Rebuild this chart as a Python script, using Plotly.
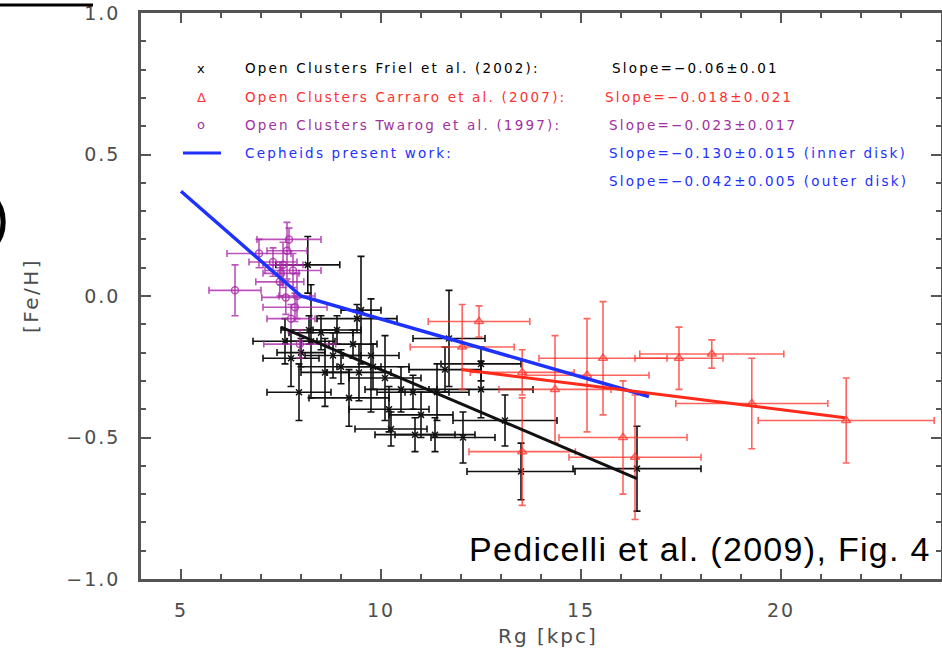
import plotly.graph_objects as go

# ---------------- data ----------------
# Friel et al. (2002) open clusters: Rg, [Fe/H], errors
friel_x    = [7.6, 7.75, 7.95, 8.0, 8.17, 8.2, 8.25, 8.5, 8.8, 8.9, 9.0, 9.2, 9.4, 9.45, 9.5, 9.75,
              9.8, 10.1, 10.25, 10.5, 10.8, 10.85, 11.0, 11.35, 11.4, 11.6, 11.7, 12.05, 12.5, 12.5,
              13.1, 13.5, 16.4, 10.2, 9.3, 8.6]
friel_y    = [-0.16, -0.22, -0.34, -0.20, 0.11, -0.12, -0.16, -0.13, -0.21, -0.12, -0.25, -0.36, -0.08,
              -0.27, -0.05, -0.21, -0.25, -0.29, -0.47, -0.33, -0.34, -0.49, -0.42, -0.49, -0.34, -0.26,
              -0.15, -0.50, -0.24, -0.33, -0.44, -0.62, -0.61, -0.40, -0.17, -0.27]
friel_xerr = [0.8, 0.7, 0.8, 0.6, 0.8, 0.7, 0.6, 0.8, 0.7, 0.6, 1.0, 1.0, 1.0, 0.8, 0.5, 0.7,
              0.9, 0.9, 0.9, 0.9, 0.9, 1.0, 0.8, 1.0, 0.8, 0.9, 0.9, 0.8, 1.0, 1.3,
              1.3, 1.35, 1.6, 1.0, 0.6, 0.6]
friel_yerr = [0.08, 0.10, 0.10, 0.05, 0.10, 0.05, 0.20, 0.06, 0.08, 0.05, 0.06, 0.10, 0.05,
              0.10, 0.19, 0.20, 0.08, 0.15, 0.06, 0.08, 0.06, 0.06, 0.08, 0.06, 0.10, 0.08,
              0.17, 0.09, 0.06, 0.10, 0.09, 0.10, 0.15, 0.08, 0.05, 0.12]

# Carraro et al. (2007) open clusters
carraro_x    = [12.03, 12.45, 13.53, 13.53, 14.35, 15.15, 15.55, 16.05, 16.35, 17.45, 18.27, 19.27, 21.63]
carraro_y    = [-0.18, -0.09, -0.27, -0.55, -0.33, -0.28, -0.22, -0.50, -0.57, -0.22, -0.205, -0.38, -0.44]
carraro_xerr = [1.3, 1.27, 1.3, 1.33, 1.4, 1.55, 1.6, 1.6, 1.65, 1.1, 1.8, 1.9, 2.2]
carraro_yerr = [0.15, 0.055, 0.08, 0.19, 0.19, 0.20, 0.20, 0.20, 0.22, 0.11, 0.05, 0.16, 0.15]

# Twarog et al. (1997) open clusters
twarog_x    = [6.35, 6.95, 7.3, 7.55, 7.7, 7.65, 7.8, 7.47, 7.62, 7.85, 7.75, 7.97, 7.5, 7.9]
twarog_y    = [0.02, 0.15, 0.12, 0.11, 0.20, 0.16, 0.09, 0.05, -0.005, -0.04, -0.08, -0.17, 0.08, 0.0]
twarog_xerr = [0.65, 0.8, 0.6, 0.5, 0.8, 0.5, 0.7, 0.6, 0.6, 0.8, 0.6, 0.9, 0.45, 0.45]
twarog_yerr = [0.09, 0.05, 0.05, 0.08, 0.04, 0.10, 0.06, 0.05, 0.06, 0.05, 0.05, 0.05, 0.04, 0.08]

# Gradient fits
cepheid_fit_x = [5.0, 8.0, 16.7]
cepheid_fit_y = [0.37, 0.0, -0.355]
friel_fit_x = [7.5, 16.4]
friel_fit_y = [-0.11, -0.645]
carraro_fit_x = [12.0, 21.6]
carraro_fit_y = [-0.26, -0.43]

x_tickvals = [5, 10, 15, 20]
x_ticklabels = ["5", "10", "15", "20"]
y_tickvals = [-1.0, -0.5, 0.0, 0.5, 1.0]
y_ticklabels = ["\u22121.0", "\u22120.5", "0.0", "0.5", "1.0"]

legend_labels = ["Open Clusters Friel et al. (2002):",
                 "Open Clusters Carraro et al. (2007):",
                 "Open Clusters Twarog et al. (1997):",
                 "Cepheids present work:"]
slope_labels = ["Slope=\u22120.06\u00b10.01",
                "Slope=\u22120.018\u00b10.021",
                "Slope=\u22120.023\u00b10.017",
                "Slope=\u22120.130\u00b10.015 (inner disk)",
                "Slope=\u22120.042\u00b10.005 (outer disk)"]

BLACK = "#111111"
RED = "rgba(255,50,40,0.75)"
RED_LINE = "#ff2a1a"
PURPLE = "rgba(170,40,170,0.8)"
BLUE = "#1e32ff"
AXIS = "#555555"
LABEL_GRAY = "#4d4d4d"

# ---------------- layout geometry ----------------
W, H = 942, 658
L, R, T, B = 141, 1, 13, 79
PW, PH = W - L - R, H - T - B


def px(xp):
    return (xp - L) / PW


def py(yp):
    return (H - B - yp) / PH


def spaced(text, sp):
    return '<span style="letter-spacing:%spx">%s</span>' % (sp, text)


fig = go.Figure()


def err_trace(x, y, xe, ye, color, symbol, size, lw=1.6):
    return go.Scatter(
        x=x, y=y, mode="markers",
        marker=dict(symbol=symbol, size=size, color=color, line=dict(color=color, width=1.5)),
        error_x=dict(type="data", array=xe, color=color, thickness=lw, width=3.5),
        error_y=dict(type="data", array=ye, color=color, thickness=lw, width=3.5),
        showlegend=False, hoverinfo="skip")


fig.add_trace(err_trace(friel_x, friel_y, friel_xerr, friel_yerr, BLACK, "x-thin", 6))
fig.add_trace(err_trace(twarog_x, twarog_y, twarog_xerr, twarog_yerr, PURPLE, "circle-open", 7))
fig.add_trace(err_trace(carraro_x, carraro_y, carraro_xerr, carraro_yerr, RED, "triangle-up-open", 8))

fig.add_trace(go.Scatter(x=friel_fit_x, y=friel_fit_y, mode="lines",
                         line=dict(color=BLACK, width=3), showlegend=False))
fig.add_trace(go.Scatter(x=cepheid_fit_x, y=cepheid_fit_y, mode="lines",
                         line=dict(color=BLUE, width=3.5), showlegend=False))
fig.add_trace(go.Scatter(x=carraro_fit_x, y=carraro_fit_y, mode="lines",
                         line=dict(color=RED_LINE, width=3), showlegend=False))

annotations = []
LEG_FONT = "DejaVu Sans"
LEG_SIZE = 13.5
LEG_SP = 2.2
leg_colors = ["#000000", "#ff3030", "#a030a0", "#2030ff"]
leg_rows = [68, 97, 125, 153]
for lab, c, yy in zip(legend_labels, leg_colors, leg_rows):
    annotations.append(dict(x=px(243), y=py(yy), xref="paper", yref="paper", text=spaced(lab, LEG_SP),
                            showarrow=False, xanchor="left", yanchor="middle",
                            font=dict(family=LEG_FONT, size=LEG_SIZE, color=c)))
slope_pos = [(610, 68), (603, 97), (607, 125), (607, 153), (607, 181)]
slope_colors = ["#000000", "#ff3030", "#a030a0", "#2030ff", "#2030ff"]
for lab, c, (xx, yy) in zip(slope_labels, slope_colors, slope_pos):
    annotations.append(dict(x=px(xx), y=py(yy), xref="paper", yref="paper", text=spaced(lab, LEG_SP),
                            showarrow=False, xanchor="left", yanchor="middle",
                            font=dict(family=LEG_FONT, size=LEG_SIZE, color=c)))
# legend symbols
for sym, c, yy in [("x", "#000000", 68), ("\u0394", "#ff3030", 97), ("o", "#a030a0", 125)]:
    annotations.append(dict(x=px(201), y=py(yy), xref="paper", yref="paper", text=sym,
                            showarrow=False, xanchor="center", yanchor="middle",
                            font=dict(family=LEG_FONT, size=13, color=c)))

# axis titles
annotations.append(dict(x=px(548), y=py(636), xref="paper", yref="paper", text=spaced("Rg [kpc]", 2),
                        showarrow=False, xanchor="center", yanchor="middle",
                        font=dict(family="DejaVu Sans", size=20, color=LABEL_GRAY)))
annotations.append(dict(x=px(31), y=py(295), xref="paper", yref="paper", text=spaced("[Fe/H]", 2.5),
                        showarrow=False, xanchor="center", yanchor="middle", textangle=-90,
                        font=dict(family="DejaVu Sans", size=20, color=LABEL_GRAY)))

annotations.append(dict(x=px(933), y=py(549), xref="paper", yref="paper",
                        text=spaced("Pedicelli et al. (2009), Fig. 4", 1.3), showarrow=False,
                        xanchor="right", yanchor="middle",
                        font=dict(family="Liberation Sans", size=34, color="#000000")))
annotations.append(dict(x=px(11), y=py(216), xref="paper", yref="paper", text=")",
                        showarrow=False, xanchor="right", yanchor="middle",
                        font=dict(family="Liberation Sans", size=58, color="#000000")))

shapes = [
    dict(type="line", xref="paper", yref="paper", x0=px(0), x1=px(93), y0=py(5), y1=py(5),
         line=dict(color="#000000", width=3)),
    dict(type="line", xref="paper", yref="paper", x0=px(183), x1=px(221), y0=py(153), y1=py(153),
         line=dict(color="#2030ff", width=3)),
]

axis_common = dict(showgrid=False, zeroline=False, showline=True, linecolor=AXIS, linewidth=2.5,
                   ticks="inside", tickcolor=AXIS, tickwidth=2, mirror="allticks", automargin=False,
                   tickmode="array", ticklen=10,
                   tickfont=dict(family="DejaVu Sans", size=19, color=LABEL_GRAY))

fig.update_layout(
    width=W, height=H, margin=dict(l=L, r=R, t=T, b=B, autoexpand=False),
    paper_bgcolor="white", plot_bgcolor="white",
    xaxis=dict(range=[4, 24], tickvals=x_tickvals, ticktext=[spaced(t, 2) for t in x_ticklabels],
               ticklabelstandoff=12,
               minor=dict(tickmode="linear", tick0=0, dtick=1, ticklen=5, tickcolor=AXIS,
                          ticks="inside", tickwidth=1.5),
               **axis_common),
    yaxis=dict(range=[-1, 1], tickvals=y_tickvals, ticktext=[spaced(t, 2) for t in y_ticklabels],
               ticklabelstandoff=14,
               minor=dict(tickmode="linear", tick0=0, dtick=0.1, ticklen=5, tickcolor=AXIS,
                          ticks="inside", tickwidth=1.5),
               **axis_common),
    annotations=annotations, shapes=shapes,
)

fig.write_html("out.html", config={"displayModeBar": False},
               post_script="document.body.style.margin='0px';document.body.style.overflow='hidden';")
